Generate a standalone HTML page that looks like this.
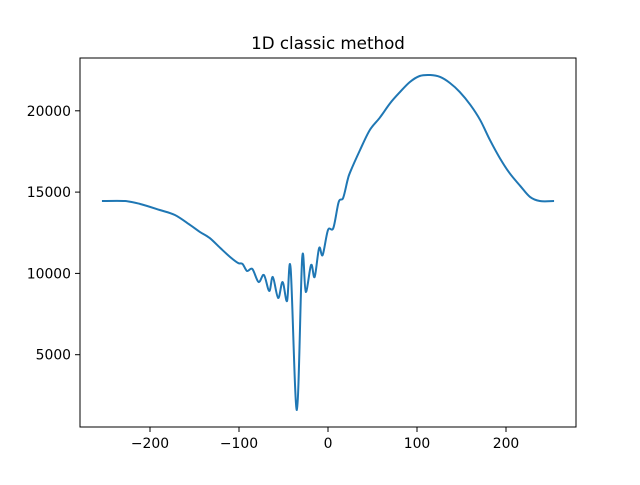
<!DOCTYPE html>
<html><head><meta charset="utf-8"><style>
body{margin:0;background:#fff}
svg text{font-family:"DejaVu Sans","Liberation Sans",sans-serif;font-size:13.9px;fill:#000}
</style></head><body>
<svg width="640" height="480" xmlns="http://www.w3.org/2000/svg">
<rect width="640" height="480" fill="#fff"/>
<text x="328" y="49" text-anchor="middle" style="font-size:16.7px">1D classic method</text>
<g id="ticks"></g>
<path id="line" fill="none" stroke="#1f77b4" stroke-width="2" stroke-linejoin="round"/>
<rect x="80" y="58" width="496" height="369" fill="none" stroke="#000" stroke-width="1"/>
</svg>
<script>
const xs=[-254,-228,-211,-189,-172,-155,-144,-133,-121,-110,-101,-96,-91,-85,-78,-72,-66,-62,-56,-51,-46,-42,-35,-29,-25,-19,-15,-10,-6,0,6,12,17,22,25,36,47,58,70,81,92,103,115,126,137,148,160,171,182,193,204,216,227,238,254];
const ys=[14450,14450,14270,13900,13590,12980,12550,12180,11560,11010,10640,10580,10150,10270,9470,9900,8920,9780,8490,9470,8300,10330,1600,10950,8860,10520,9780,11560,11130,12670,12790,14390,14640,15740,16240,17590,18820,19560,20480,21160,21770,22140,22200,22080,21710,21160,20360,19430,18200,17100,16170,15380,14700,14450,14450];
const xTicks=[-200,-100,0,100,200];
const yTicks=[5000,10000,15000,20000];
const X=v=>328+v*0.89, Y=v=>436-v*0.01626;
const g=document.getElementById('ticks');
const NS='http://www.w3.org/2000/svg';
xTicks.forEach(t=>{const l=document.createElementNS(NS,'line');l.setAttribute('x1',X(t));l.setAttribute('x2',X(t));l.setAttribute('y1',427);l.setAttribute('y2',432);l.setAttribute('stroke','#000');l.setAttribute('stroke-width','1');

g.appendChild(l);
const s=document.createElementNS(NS,'text');s.setAttribute('x',X(t));s.setAttribute('y',448);s.setAttribute('text-anchor','middle');s.textContent=t<0?'\u2212'+(-t):t;

g.appendChild(s);});
yTicks.forEach(t=>{const l=document.createElementNS(NS,'line');l.setAttribute('x1',75);l.setAttribute('x2',80);l.setAttribute('y1',Y(t));l.setAttribute('y2',Y(t));l.setAttribute('stroke','#000');l.setAttribute('stroke-width','1');

g.appendChild(l);
const s=document.createElementNS(NS,'text');s.setAttribute('x',71);s.setAttribute('y',Y(t)+5);s.setAttribute('text-anchor','end');s.textContent=t;

g.appendChild(s);});
const P=xs.map((x,i)=>[X(x),Y(ys[i])]);
let d='M'+P[0][0]+','+P[0][1];
for(let i=0;i<P.length-1;i++){const p0=P[Math.max(0,i-1)],p1=P[i],p2=P[i+1],p3=P[Math.min(P.length-1,i+2)];
const c1=[p1[0]+(p2[0]-p0[0])/6,p1[1]+(p2[1]-p0[1])/6],c2=[p2[0]-(p3[0]-p1[0])/6,p2[1]-(p3[1]-p1[1])/6];
d+=` C${c1[0]},${c1[1]} ${c2[0]},${c2[1]} ${p2[0]},${p2[1]}`;}
document.getElementById('line').setAttribute('d',d);
</script>
</body></html>
